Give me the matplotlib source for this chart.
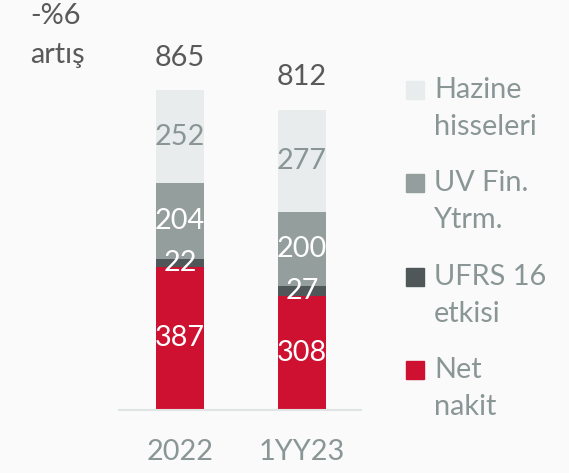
import matplotlib.pyplot as plt
from matplotlib.patches import Rectangle

plt.rcParams['font.family'] = ['Lato', 'DejaVu Sans']

periods = ["2022", "1YY23"]
net_nakit = [387, 308]
ufrs16 = [22, 27]
uv_fin = [204, 200]
hazine = [252, 277]
totals = [865, 812]

series = [net_nakit, ufrs16, uv_fin, hazine]
names = ["Net\nnakit", "UFRS 16\netkisi", "UV Fin.\nYtrm.", "Hazine\nhisseleri"]
colors = ["#ce1131", "#4f5758", "#949e9c", "#e8ecec"]
label_colors = ["white", "white", "white", "#8a9696"]

FS = 20.8
W, H = 569, 473
bg = "#fafafa"
fig = plt.figure(figsize=(W / 100, H / 100), dpi=100, facecolor=bg)
# axes spans the baseline (px 119..361), bottom at y=410
ax = fig.add_axes([119 / W, (H - 410) / H, (361 - 119) / W, 410 / H])
ax.set_facecolor(bg)
ax.set_xlim(-0.5, 1.484)
ax.set_ylim(0, 410 / 0.37)

x = range(len(periods))
bottom = [0, 0]
for vals, col, lc in zip(series, colors, label_colors):
    bars = ax.bar(x, vals, 0.393, bottom=bottom, color=col, zorder=2)
    for xi, b, v in zip(x, bottom, vals):
        ax.text(xi, b + v / 2, str(v), ha='center', va='center',
                fontsize=FS, color=lc, zorder=3)
    bottom = [b + v for b, v in zip(bottom, vals)]

for xi, t in zip(x, totals):
    ax.annotate(str(t), (xi, t), xytext=(0, 14), textcoords='offset points',
                ha='center', va='bottom', fontsize=FS, color='#595959')

for s in ['top', 'right', 'left']:
    ax.spines[s].set_visible(False)
ax.spines['bottom'].set_color('#e0e4e4')
ax.spines['bottom'].set_linewidth(1.5)
ax.set_yticks([])
ax.set_xticks(list(x))
ax.set_xticklabels(periods, fontsize=FS, color='#8a9696')
ax.tick_params(axis='x', length=0, pad=21)

fig.text(30 / W, 1 - 16 / H, "-%6", fontsize=FS, color='#595959', va='center')
fig.text(30 / W, 1 - 55 / H, "artış", fontsize=FS, color='#595959', va='center')

# legend drawn by hand, top to bottom
leg_y = [90, 183, 277, 370]
for yy, name, col in zip(leg_y, names[::-1], colors[::-1]):
    fig.patches.append(Rectangle((406 / W, 1 - (yy + 9) / H), 18 / W, 18 / H,
                                 transform=fig.transFigure, color=col))
    l1, l2 = name.split("\n")
    fig.text(434 / W, 1 - yy / H, l1, fontsize=FS, color='#8a9696', va='center')
    fig.text(434 / W, 1 - (yy + 37) / H, l2, fontsize=FS, color='#8a9696', va='center')

fig.savefig("out.png", dpi=100, facecolor=bg)
